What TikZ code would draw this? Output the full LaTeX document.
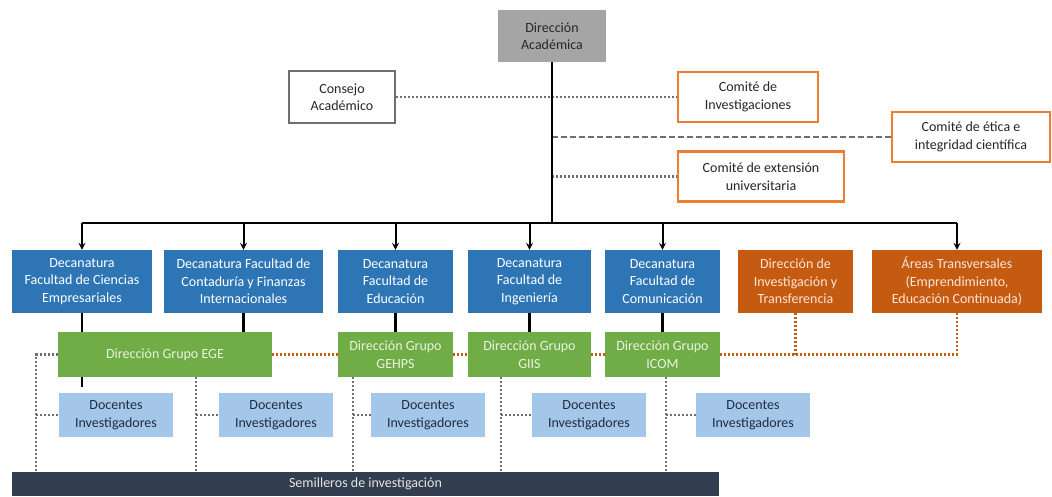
\documentclass[tikz,border=0pt]{standalone}
\usepackage{fontspec}
\setmainfont{Carlito}
\definecolor{decblue}{HTML}{2E75B6}
\definecolor{grpgreen}{HTML}{70AD47}
\definecolor{grptext}{HTML}{EAF3E0}
\definecolor{docblue}{HTML}{A4C6E8}
\definecolor{doctext}{HTML}{1F2D44}
\definecolor{comorange}{HTML}{ED7D31}
\definecolor{traorange}{HTML}{C55A11}
\definecolor{tratext}{HTML}{FBE5D6}
\definecolor{dirgray}{HTML}{A5A5A5}
\definecolor{semidark}{HTML}{323E4F}
\definecolor{dotgray}{HTML}{6F6F6F}
\definecolor{dotred}{HTML}{C55A11}
\begin{document}
\begin{tikzpicture}[x=1pt, y=-1pt, >=stealth,
  font=\fontsize{14}{17.5}\selectfont,
  dec/.style={fill=decblue, text=white, align=center, minimum height=63pt, inner sep=1pt},
  tra/.style={fill=traorange, text=tratext, align=center, minimum height=63pt, inner sep=1pt},
  grp/.style={fill=grpgreen, text=grptext, align=center, minimum height=45pt, inner sep=1pt},
  doc/.style={fill=docblue, text=doctext, align=center, minimum height=44pt, minimum width=114pt, inner sep=1pt},
  com/.style={draw=comorange, line width=2.2pt, fill=white, text=black!85, align=center, minimum height=50pt, inner sep=1pt},
  link/.style={line width=2.6pt},
  bus/.style={line width=2pt},
  dotline/.style={dotgray, line width=2.5pt, dash pattern=on 2pt off 2pt},
  redline/.style={dotred, line width=2.5pt, dash pattern=on 2pt off 2pt},
  dashline/.style={dotgray, line width=2.4pt, dash pattern=on 6pt off 3pt}]
\useasboundingbox (0,0) rectangle (1052,496);

\node[fill=dirgray, text=black!85, align=center, minimum width=108pt, minimum height=52pt] (dir) at (552,36) {Dirección\\Académica};
\node[draw=dotgray, line width=1.8pt, fill=white, text=black!85, align=center, minimum width=106pt, minimum height=52pt] (consejo) at (342,97) {Consejo\\Académico};
\node[com, minimum width=140pt] (cinv) at (748,97) {Comité de\\Investigaciones};
\node[com, minimum width=158pt] (cetica) at (971,137) {Comité de ética e\\integridad científica};
\node[com, minimum width=166pt] (cext) at (761,176.5) {Comité de extensión\\universitaria};

\node[dec, minimum width=140pt] (ciencias) at (82,281.5) {Decanatura\\Facultad de Ciencias\\Empresariales};
\node[dec, minimum width=159pt] (contaduria) at (243.5,281.5) {Decanatura Facultad de\\Contaduría y Finanzas\\Internacionales};
\node[dec, minimum width=115pt] (educacion) at (395.5,281.5) {Decanatura\\Facultad de\\Educación};
\node[dec, minimum width=123pt] (ingenieria) at (529.5,281.5) {Decanatura\\Facultad de\\Ingeniería};
\node[dec, minimum width=115pt] (comunicacion) at (662.5,281.5) {Decanatura\\Facultad de\\Comunicación};
\node[tra, minimum width=115pt] (invtra) at (795.5,281.5) {Dirección de\\Investigación y\\Transferencia};
\node[tra, minimum width=170pt] (areas) at (957,281.5) {Áreas Transversales\\(Emprendimiento,\\Educación Continuada)};

\node[grp, minimum width=214pt] (ege) at (165,354.5) {Dirección Grupo EGE};
\node[grp, minimum width=115pt] (gehps) at (395.5,354.5) {Dirección Grupo\\GEHPS};
\node[grp, minimum width=123pt] (giis) at (529.5,354.5) {Dirección Grupo\\GIIS};
\node[grp, minimum width=115pt] (icom) at (662.5,354.5) {Dirección Grupo\\ICOM};

\node[doc] (doc1) at (116,415) {Docentes\\Investigadores};
\node[doc] (doc2) at (276,415) {Docentes\\Investigadores};
\node[doc] (doc3) at (428,415) {Docentes\\Investigadores};
\node[doc] (doc4) at (589,415) {Docentes\\Investigadores};
\node[doc] (doc5) at (753,415) {Docentes\\Investigadores};

\node[fill=semidark, text=white!90!black, minimum width=707pt, minimum height=24pt, inner sep=0pt] (semi) at (365.5,484) {Semilleros de investigación};

\coordinate (trunk) at (552,223);
\draw[dotline] (consejo.east) -- (cinv.west);
\draw[dashline] (dir.south |- cetica.west) -- (cetica.west);
\draw[dotline] (dir.south |- cext.west) -- (cext.west);
\draw[bus] (dir.south) -- (trunk);
\draw[bus] (ciencias.north |- trunk) -- (areas.north |- trunk);
\foreach \n in {ciencias,contaduria,educacion,ingenieria,comunicacion,areas}
  \draw[bus, ->] (\n.north |- trunk) -- (\n.north);

\draw[link] (ciencias.south) -- (ciencias.south |- ege.north);
\draw[link] (contaduria.south) -- (contaduria.south |- ege.north);
\draw[link] (educacion.south) -- (gehps.north);
\draw[link] (ingenieria.south) -- (giis.north);
\draw[link] (comunicacion.south) -- (icom.north);
\draw[link] (ciencias.south |- ege.south) -- ++(0,10);

\draw[redline] (ege.east) -- (gehps.west);
\draw[redline] (gehps.east) -- (giis.west);
\draw[redline] (giis.east) -- (icom.west);
\draw[redline] (icom.east) -- (areas.south |- icom.east) -- (areas.south);
\draw[redline] (invtra.south) -- (invtra.south |- icom.east);

\coordinate (l1) at (36,354.5);
\draw[dotline] (ege.west) -- (l1) -- (l1 |- semi.north);
\draw[dotline] (l1 |- doc1.west) -- (doc1.west);
\foreach \x/\g/\d in {196/ege/doc2, 353/gehps/doc3, 501/giis/doc4, 666/icom/doc5} {
  \draw[dotline] (\x,377) -- (\x,472);
  \draw[dotline] (\x,415) -- (\d.west);
}
\end{tikzpicture}
\end{document}
